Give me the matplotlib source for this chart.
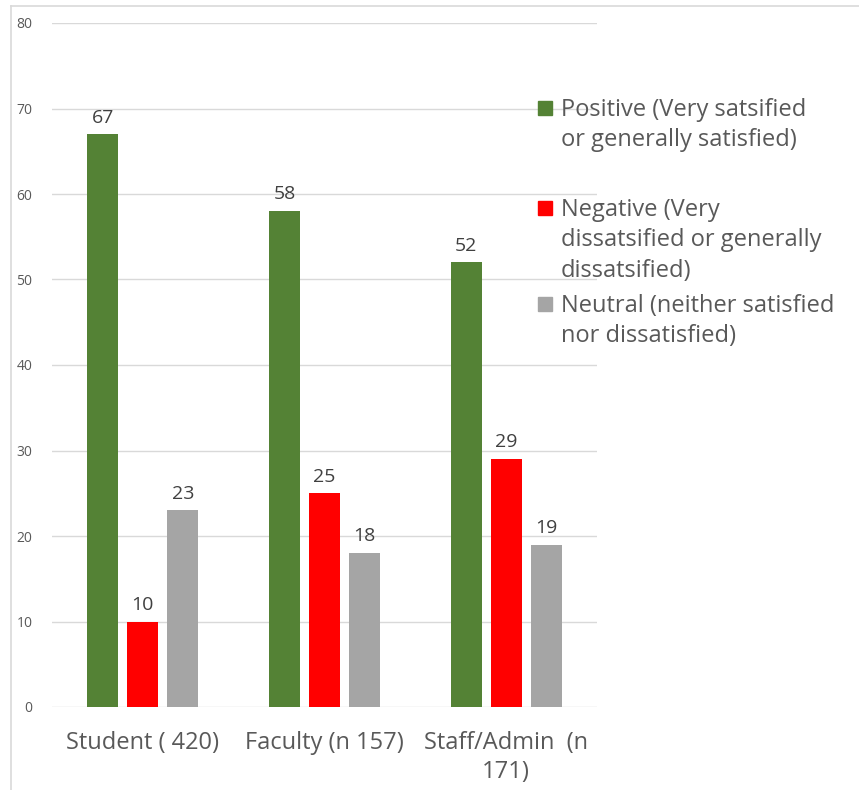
import matplotlib
matplotlib.use("Agg")
import matplotlib.pyplot as plt
from matplotlib.patches import Rectangle
from matplotlib.lines import Line2D
import numpy as np

plt.rcParams['font.family'] = ['Open Sans', 'DejaVu Sans']

categories = ["Student ( 420)", "Faculty (n 157)", "Staff/Admin  (n\n171)"]
series_names = ["Positive (Very satsified\nor generally satisfied)",
                "Negative (Very\ndissatsified or generally\ndissatsified)",
                "Neutral (neither satisfied\nnor dissatisfied)"]
positive = [67, 58, 52]
negative = [10, 25, 29]
neutral = [23, 18, 19]
colors = ["#548235", "#FF0000", "#A5A5A5"]
yticks = [0, 10, 20, 30, 40, 50, 60, 70, 80]

W, H = 859, 790
fig = plt.figure(figsize=(W/100, H/100), dpi=100)
ax = fig.add_axes([52/W, 1-707/H, (597-52)/W, (707-23)/H])

x = np.arange(len(categories))
bw = 0.172
step = 0.22
values = [positive, negative, neutral]
text_c = "#595959"
for i, (vals, c) in enumerate(zip(values, colors)):
    xs = x + (i-1)*step
    ax.bar(xs, vals, width=bw, color=c, zorder=3)
    for xi, v in zip(xs, vals):
        ax.annotate(str(v), (xi, v), xytext=(0, 5.5), textcoords="offset points",
                    ha="center", va="bottom", fontsize=14, color="#404040")

ax.set_xlim(-0.5, 2.5)
ax.set_ylim(0, 80)
ax.set_yticks(yticks)
ax.set_yticklabels([str(t) for t in yticks], fontsize=10, color=text_c)
ax.set_xticks(x)
ax.set_xticklabels(categories, fontsize=17, color=text_c, linespacing=1.3)
ax.tick_params(axis='y', length=0, pad=14)
ax.tick_params(axis='x', length=0, pad=17)
ax.yaxis.grid(True, color="#D9D9D9", linewidth=1, zorder=0)
for s in ax.spines.values():
    s.set_visible(False)
ax.set_facecolor("none")

# legend, drawn manually
leg_y = [108, 208, 304]
for name, c, yy in zip(series_names, colors, leg_y):
    fig.patches.append(Rectangle((538/W, 1-(yy+7)/H), 14/W, 14/H,
                                 transform=fig.transFigure, color=c, zorder=5))
    fig.text(561/W, 1-(yy-10)/H, name, fontsize=17, color=text_c,
             ha="left", va="top", linespacing=1.36)

# outer frame lines
fig.add_artist(Line2D([11/W, 1], [1-6/H, 1-6/H], color="#D9D9D9", lw=1.2,
                      transform=fig.transFigure))
fig.add_artist(Line2D([11/W, 11/W], [0, 1-6/H], color="#D9D9D9", lw=1.2,
                      transform=fig.transFigure))

fig.savefig("out.png", dpi=100)
